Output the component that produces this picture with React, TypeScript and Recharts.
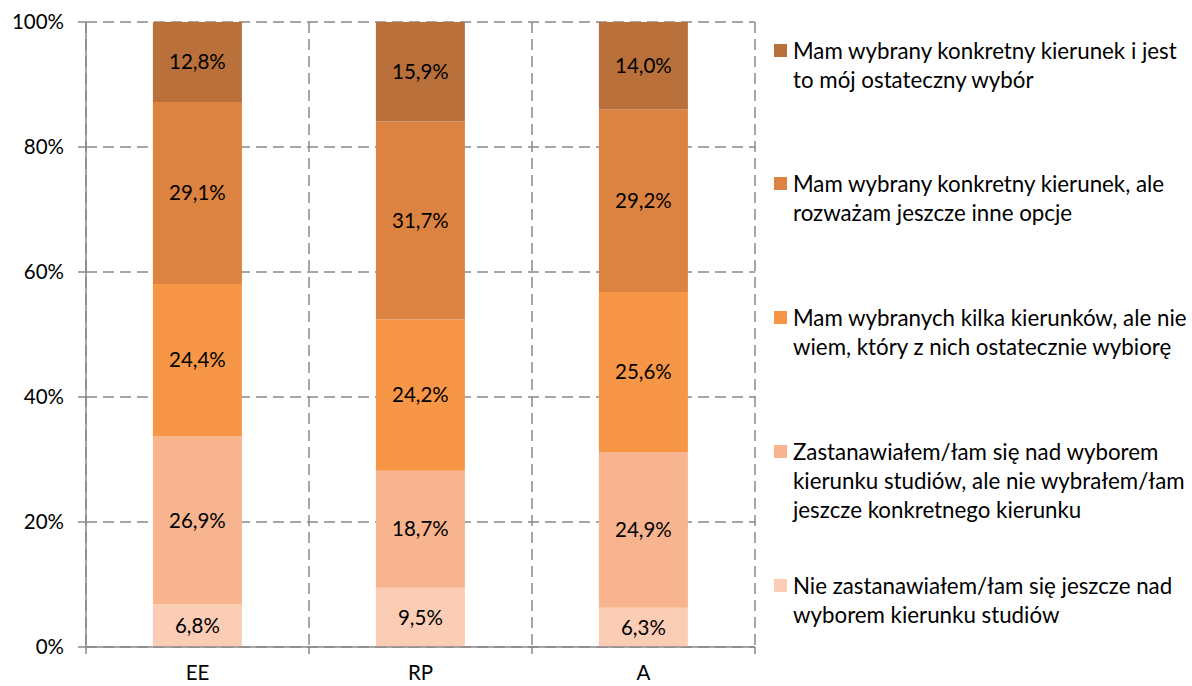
import React from "react";
import { BarChart, Bar, XAxis, YAxis, CartesianGrid, LabelList } from "recharts";

const categories = ["EE", "RP", "A"];
const nieZastanawialem = [6.8, 9.5, 6.3];
const zastanawialem = [26.9, 18.7, 24.9];
const kilkaKierunkow = [24.4, 24.2, 25.6];
const konkretnyInne = [29.1, 31.7, 29.2];
const konkretnyOstateczny = [12.8, 15.9, 14.0];
const yTicks = [0, 20, 40, 60, 80, 100];

const series = [
  { key: "s1", values: nieZastanawialem, color: "#FBCDB5", lines: ["Nie zastanawiałem/łam się jeszcze nad", "wyborem kierunku studiów"] },
  { key: "s2", values: zastanawialem, color: "#F8B48F", lines: ["Zastanawiałem/łam się nad wyborem", "kierunku studiów, ale nie wybrałem/łam", "jeszcze konkretnego kierunku"] },
  { key: "s3", values: kilkaKierunkow, color: "#F79646", lines: ["Mam wybranych kilka kierunków, ale nie", "wiem, który z nich ostatecznie wybiorę"] },
  { key: "s4", values: konkretnyInne, color: "#DC8341", lines: ["Mam wybrany konkretny kierunek, ale", "rozważam jeszcze inne opcje"] },
  { key: "s5", values: konkretnyOstateczny, color: "#B9703A", lines: ["Mam wybrany konkretny kierunek i jest", "to mój ostateczny wybór"] },
];

const data = categories.map((c, i) => {
  const row: Record<string, any> = { name: c };
  series.forEach((s) => (row[s.key] = s.values[i]));
  return row;
});

const FONT = "Lato, 'Open Sans', sans-serif";
const GRID = "#898989";
const FS = 20.5;

const fmt = (v: any) => `${Number(v).toFixed(1).replace(".", ",")}%`;

const boundaryPoints = (props: any) => {
  const off = props.offset || {};
  const n = categories.length;
  const pts: number[] = [];
  for (let k = 0; k <= n; k++) pts.push(off.left + (off.width * k) / n);
  return pts;
};

const CatTick = (props: any) => {
  const { x, y, payload, index, visibleTicksCount } = props;
  const half = payload && payload.offset ? payload.offset : 0;
  const axisY = y - 7;
  return (
    <g>
      <line x1={x - half} x2={x - half} y1={axisY} y2={axisY + 7} stroke={GRID} strokeWidth={1.5} />
      {index === visibleTicksCount - 1 && (
        <line x1={x + half} x2={x + half} y1={axisY} y2={axisY + 7} stroke={GRID} strokeWidth={1.5} />
      )}
      <text x={x} y={axisY + 18} dy="0.71em" textAnchor="middle" fill="#000" fontSize={FS} fontFamily={FONT}>
        {payload.value}
      </text>
    </g>
  );
};

export default function App() {
  const legendItems = [...series].reverse();
  return (
    <div style={{ position: "absolute", left: 0, top: 0, width: 1192, height: 686, background: "#fff", fontFamily: FONT }}>
      <BarChart
        width={1192}
        height={686}
        data={data}
        margin={{ top: 22, right: 437, left: 0, bottom: 0 }}
        barCategoryGap="30%"
      >
        <CartesianGrid
          stroke={GRID}
          strokeWidth={1.5}
          strokeDasharray="11 6"
          verticalCoordinatesGenerator={boundaryPoints}
        />
        <XAxis
          dataKey="name"
          height={39}
          axisLine={{ stroke: GRID, strokeWidth: 1.5 }}
          tickLine={false}
          tickSize={0}
          tickMargin={7}
          tick={<CatTick />}
        />
        <YAxis
          width={86}
          domain={[0, 100]}
          ticks={yTicks}
          tickFormatter={(v) => `${v}%`}
          axisLine={{ stroke: GRID, strokeWidth: 1.5 }}
          tickLine={{ stroke: GRID, strokeWidth: 1.5 }}
          tickSize={8}
          tickMargin={14}
          tick={{ fill: "#000", fontSize: FS, fontFamily: FONT }}
        />
        {series.map((s) => (
          <Bar key={s.key} dataKey={s.key} stackId="a" fill={s.color} isAnimationActive={false}>
            <LabelList
              dataKey={s.key}
              position="center"
              formatter={fmt}
              style={{ fill: "#000", fontSize: FS, fontFamily: FONT }}
            />
          </Bar>
        ))}
      </BarChart>
      {legendItems.map((s, i) => (
        <div
          key={s.key}
          style={{
            position: "absolute",
            left: 774,
            top: 35.5 + i * 133.75,
            fontSize: 22.3,
            lineHeight: "29px",
            color: "#000",
            whiteSpace: "nowrap",
          }}
        >
          <div style={{ position: "absolute", left: 0, top: 8, width: 13, height: 13, background: s.color }} />
          <div style={{ marginLeft: 19 }}>
            {s.lines.map((l, j) => (
              <div key={j}>{l}</div>
            ))}
          </div>
        </div>
      ))}
    </div>
  );
}
